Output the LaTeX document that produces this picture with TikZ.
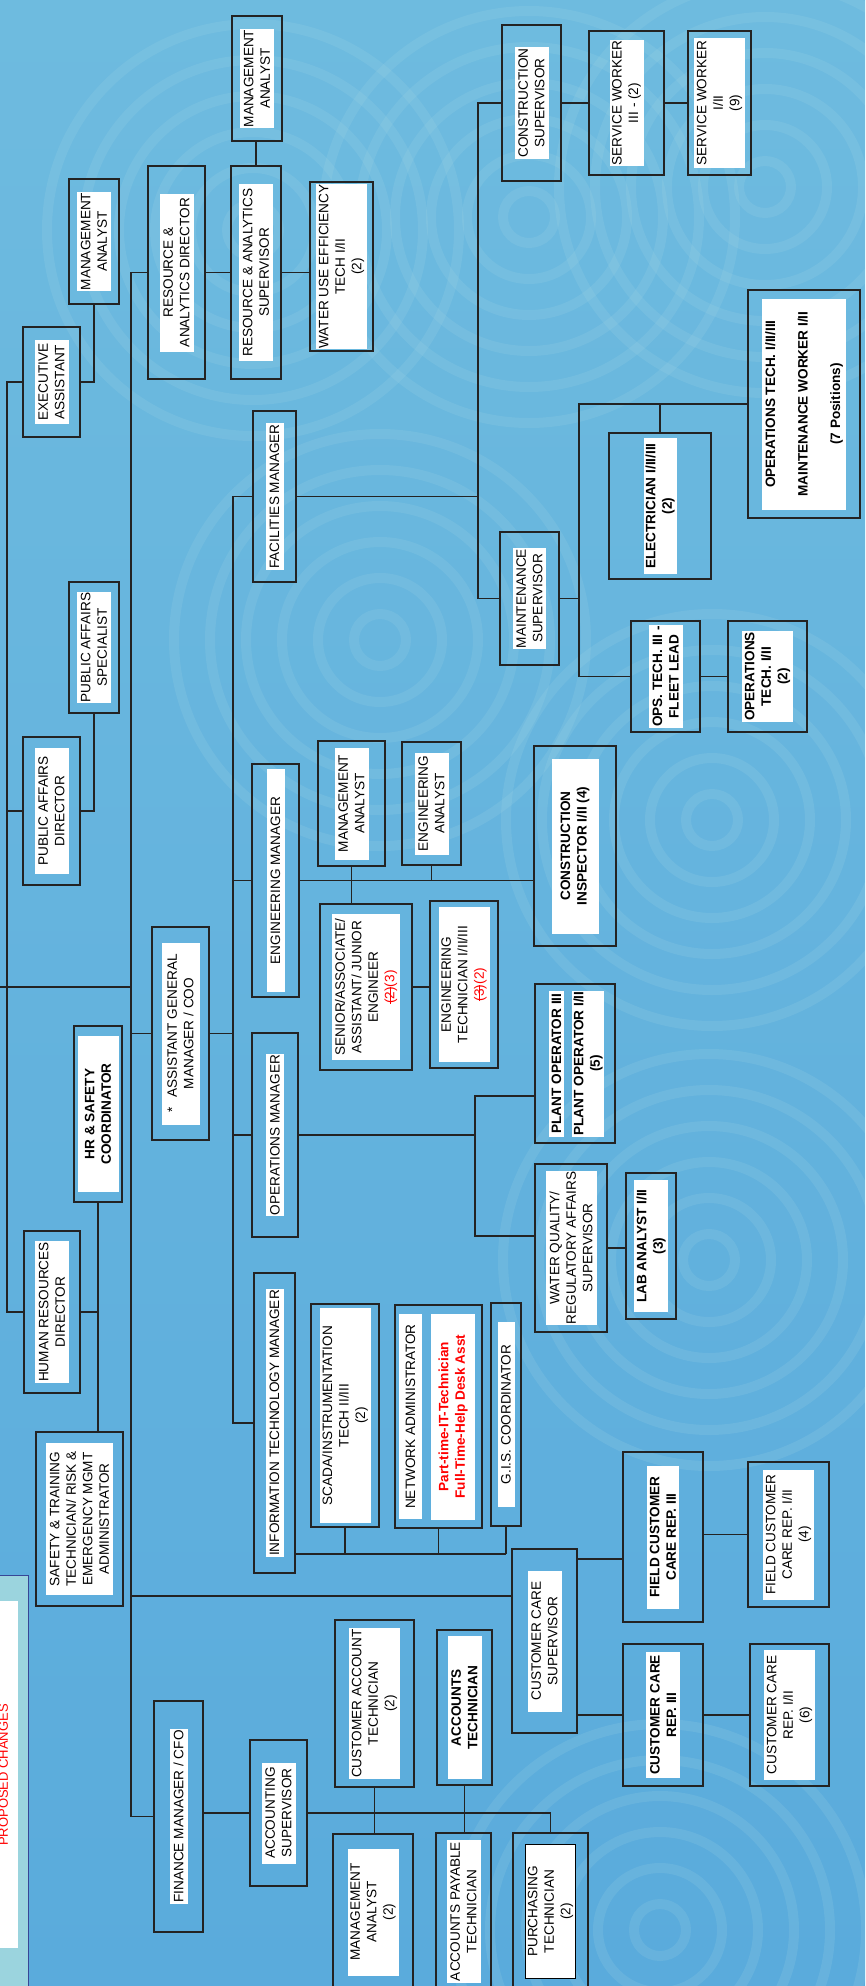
\documentclass[tikz,border=0pt]{standalone}
\usepackage{xcolor}
\usepackage{fontspec}
\setmainfont{Liberation Sans}
\usepackage{tikz}

\definecolor{bgtop}{RGB}{110,187,223}
\definecolor{bgbot}{RGB}{90,171,220}
\definecolor{ripc}{RGB}{168,217,229}
\definecolor{linec}{RGB}{35,35,35}
\definecolor{legc}{RGB}{155,212,222}
\definecolor{legedge}{RGB}{55,70,150}

\newcommand{\strk}[1]{\setbox0=\hbox{#1}\rlap{\rule[0.28em]{\wd0}{0.8pt}}\box0}

\begin{document}
\begin{tikzpicture}[x=1pt, y=-1pt,
  postbox/.style={draw=linec, line width=1.3pt, inner sep=0pt},
  postlbl/.style={fill=white, rotate=90, align=center, inner sep=1pt, font=\fontsize{13.6}{16.5}\selectfont},
  postbold/.style={postlbl, font=\fontsize{13.6}{16.5}\selectfont\bfseries},
  conn/.style={draw=linec, line width=1.6pt},
  ripple/.style={draw=ripc, line width=10pt, opacity=0.17}]
\useasboundingbox (0,0) rectangle (865,1986);
\clip (0,0) rectangle (865,1986);
%\draw[help lines] (0,0) grid[step=100] (865,1986);
\shade[top color=bgtop, bottom color=bgbot] (0,0) rectangle (865,1986);
\foreach \cx/\cy in {253/230,529/217,765/187,712/820,709/1260,660/1930,380/640}
  \foreach \rr in {26,62,...,206}
    \draw[ripple] (\cx,\cy) circle[radius=\rr pt];

\coordinate (spA) at (7,0);
\coordinate (spB) at (131,0);
\coordinate (spC) at (233,0);
\coordinate (spD) at (478,0);
\coordinate (spE) at (579,0);
\coordinate (spF) at (475,0);
\coordinate (gm) at (0,987);

% legend
\node[draw=legedge, fill=legc, line width=1pt, minimum width=31pt, minimum height=420pt, inner sep=0pt] (legend) at (12.5,1785) {};
\node[fill=white, minimum width=23pt, minimum height=347pt, inner sep=0pt] (legendw) at (6.5,1774.5) {};
\node[rotate=90, text=red, inner sep=0pt, font=\fontsize{13}{16}\selectfont] (legendt) at (3.5,1775) {PROPOSED CHANGES};

% left column
\node[postbox, minimum width=50pt, minimum height=125pt] (ma1) at (94,241.5) {};
\node[postlbl, minimum width=98pt, minimum height=34pt] (ma1t) at (ma1) {MANAGEMENT\\ANALYST};
\node[postbox, minimum width=57pt, minimum height=110pt] (exa) at (51.5,382) {};
\node[postlbl, minimum width=84pt, minimum height=34pt] (exat) at (exa) {EXECUTIVE\\ASSISTANT};
\node[postbox, minimum width=50pt, minimum height=131pt] (pas) at (94,647.5) {};
\node[postlbl, minimum width=111pt, minimum height=34pt] (past) at (pas) {PUBLIC AFFAIRS\\SPECIALIST};
\node[postbox, minimum width=57pt, minimum height=148pt] (pad) at (51.5,811) {};
\node[postlbl, minimum width=126pt, minimum height=34pt] (padt) at (pad) {PUBLIC AFFAIRS\\DIRECTOR};
\node[postbox, line width=2.2pt, minimum width=48pt, minimum height=176pt] (hrs) at (98,1114) {};
\node[postbold, minimum width=156pt, minimum height=41pt] (hrst) at (hrs) {HR \& SAFETY\\COORDINATOR};
\node[postbox, minimum width=56pt, minimum height=162pt] (hrd) at (52,1312) {};
\node[postlbl, minimum width=138pt, minimum height=34pt] (hrdt) at (hrd) {HUMAN RESOURCES\\DIRECTOR};
\node[postbox, minimum width=87pt, minimum height=174pt] (sat) at (79.5,1519) {};
\node[postlbl, minimum width=152pt, minimum height=67pt] (satt) at (sat) {SAFETY \& TRAINING\\TECHNICIAN/ RISK \&\\EMERGENCY MGMT\\ADMINISTRATOR};

% directors
\node[postbox, minimum width=57pt, minimum height=213pt] (rad) at (176.5,272.5) {};
\node[postlbl, minimum width=158pt, minimum height=34pt] (radt) at (rad) {RESOURCE \&\\ANALYTICS DIRECTOR};
\node[postbox, minimum width=50pt, minimum height=213pt] (ras) at (256,272.5) {};
\node[postlbl, minimum width=177pt, minimum height=34pt] (rast) at (ras) {RESOURCE \& ANALYTICS\\SUPERVISOR};
\node[postbox, minimum width=50pt, minimum height=125pt] (ma0) at (257,78.5) {};
\node[postlbl, minimum width=98pt, minimum height=34pt] (ma0t) at (ma0) {MANAGEMENT\\ANALYST};
\node[postbox, minimum width=63pt, minimum height=169pt] (wue) at (341.5,266.5) {};
\node[postlbl, minimum width=161pt, minimum height=51pt] (wuet) at (wue) {WATER USE EFFICIENCY\\TECH I/II\\(2)};
\node[postbox, minimum width=57pt, minimum height=213pt] (agm) at (180.5,1033.5) {};
\node[postlbl, minimum width=182pt, minimum height=38pt] (agmt) at (agm) {*\hspace{10pt}ASSISTANT GENERAL\\MANAGER / COO};
\node[postbox, minimum width=49pt, minimum height=231pt] (fm) at (178.5,1816.5) {};
\node[postlbl, minimum width=170pt, minimum height=18pt] (fmt) at (fm) {FINANCE MANAGER / CFO};

% managers
\node[postbox, minimum width=43pt, minimum height=171pt] (fac) at (274.5,496.5) {};
\node[postlbl, minimum width=143pt, minimum height=18pt] (fact) at (fac) {FACILITIES MANAGER};
\node[postbox, minimum width=47pt, minimum height=233pt] (em) at (275.5,880.5) {};
\node[postlbl, minimum width=223pt, minimum height=18pt] (emt) at (em) {ENGINEERING MANAGER};
\node[postbox, minimum width=46pt, minimum height=204pt] (om) at (275,1135) {};
\node[postlbl, minimum width=160pt, minimum height=18pt] (omt) at (om) {OPERATIONS MANAGER};
\node[postbox, minimum width=41pt, minimum height=300pt] (it) at (274.5,1423) {};
\node[postlbl, minimum width=260pt, minimum height=18pt] (itt) at (it) {INFORMATION TECHNOLOGY MANAGER};

% facilities
\node[postbox, minimum width=59pt, minimum height=156pt] (cs) at (531.5,103) {};
\node[postlbl, minimum width=108pt, minimum height=34pt] (cst) at (cs) {CONSTRUCTION\\SUPERVISOR};
\node[postbox, minimum width=75pt, minimum height=144pt] (sw3) at (626.5,103) {};
\node[postlbl, minimum width=124pt, minimum height=34pt] (sw3t) at (sw3) {SERVICE WORKER\\III - (2)};
\node[postbox, minimum width=63pt, minimum height=144pt] (sw12) at (719.5,103) {};
\node[postlbl, minimum width=130pt, minimum height=51pt] (sw12t) at (sw12) {SERVICE WORKER\\I/II\\(9)};
\node[postbox, minimum width=112pt, minimum height=228pt] (opt) at (804,404) {};
\node[postbold, minimum width=211pt, minimum height=84pt] (optt) at (opt) {OPERATIONS TECH. I/II/III\\[16pt]MAINTENANCE WORKER I/II\\[16pt](7 Positions)};
\node[postbox, minimum width=102pt, minimum height=146pt] (elec) at (660,506) {};
\node[postbold, minimum width=136pt, minimum height=33pt] (elect) at (elec) {ELECTRICIAN I/II/III\\(2)};
\node[postbox, minimum width=59pt, minimum height=133pt] (ms) at (529.5,598.5) {};
\node[postlbl, minimum width=99pt, minimum height=33pt] (mst) at (ms) {MAINTENANCE\\SUPERVISOR};
\node[postbox, minimum width=69pt, minimum height=111pt] (fl) at (665.5,676.5) {};
\node[postbold, minimum width=100pt, minimum height=34pt] (flt) at (fl) {OPS. TECH. III -\\FLEET LEAD};
\node[postbox, minimum width=79pt, minimum height=111pt] (ot) at (767.5,676.5) {};
\node[postbold, minimum width=89pt, minimum height=51pt] (ott) at (ot) {OPERATIONS\\TECH. I/II\\(2)};

% engineering
\node[postbox, minimum width=67pt, minimum height=125pt] (ma2) at (351.5,803.5) {};
\node[postlbl, minimum width=112pt, minimum height=34pt] (ma2t) at (ma2) {MANAGEMENT\\ANALYST};
\node[postbox, minimum width=59pt, minimum height=123pt] (ea) at (431.5,803.5) {};
\node[postlbl, minimum width=102pt, minimum height=34pt] (eat) at (ea) {ENGINEERING\\ANALYST};
\node[postbox, minimum width=82pt, minimum height=200pt] (ci) at (575,846) {};
\node[postbold, minimum width=175pt, minimum height=47pt] (cit) at (ci) {CONSTRUCTION\\INSPECTOR I/II (4)};
\node[postbox, minimum width=92pt, minimum height=166pt] (sen) at (366,987) {};
\node[postlbl, minimum width=146pt, minimum height=68pt] (sent) at (sen) {SENIOR/ASSOCIATE/\\ASSISTANT/ JUNIOR\\ENGINEER\\{\color{red}\strk{(2)}(3)}};
\node[postbox, minimum width=68pt, minimum height=167pt] (et) at (464,984.5) {};
\node[postlbl, minimum width=155pt, minimum height=51pt] (ett) at (et) {ENGINEERING\\TECHNICIAN I/II/III\\{\color{red}\strk{(3)}(2)}};

% operations
\node[postbox, minimum width=80pt, minimum height=159pt] (po) at (575,1063.5) {};
\node[postbold, minimum width=146pt, minimum height=15pt] (pot) at ([xshift=-18.5pt]po.center) {PLANT OPERATOR III};
\node[postbold, minimum width=146pt, minimum height=32pt] (pou) at ([xshift=13pt]po.center) {PLANT OPERATOR I/II\\(5)};
\node[postbox, minimum width=72pt, minimum height=168pt] (wq) at (571,1248) {};
\node[postlbl, minimum width=151pt, minimum height=51pt] (wqt) at (wq) {WATER QUALITY/\\REGULATORY AFFAIRS\\SUPERVISOR};
\node[postbox, minimum width=50pt, minimum height=146pt] (lab) at (651,1246) {};
\node[postbold, minimum width=132pt, minimum height=34pt] (labt) at (lab) {LAB ANALYST I/II\\(3)};

% information technology
\node[postbox, minimum width=68pt, minimum height=223pt] (scada) at (345,1415.5) {};
\node[postlbl, minimum width=215pt, minimum height=51pt] (scadat) at (scada) {SCADA/INSTRUMENTATION\\TECH II/III\\(2)};
\node[postbox, minimum width=87pt, minimum height=223pt] (net) at (438.5,1416.5) {};
\node[postlbl, minimum width=205pt, minimum height=23pt] (nett) at ([xshift=-28pt]net.center) {NETWORK ADMINISTRATOR};
\node[postbold, text=red, minimum width=206pt, minimum height=44pt] (netu) at ([xshift=14.5pt]net.center) {Part-time-IT-Technician\\Full-Time-Help Desk Asst};
\node[postbox, minimum width=30pt, minimum height=223pt] (gis) at (506,1414.5) {};
\node[postlbl, minimum width=185pt, minimum height=17pt] (gist) at (gis) {G.I.S. COORDINATOR};

% customer care
\node[postbox, minimum width=65pt, minimum height=184pt] (ccs) at (544.5,1641) {};
\node[postlbl, minimum width=141pt, minimum height=34pt] (ccst) at (ccs) {CUSTOMER CARE\\SUPERVISOR};
\node[postbox, minimum width=80pt, minimum height=170pt] (fc3) at (663,1537) {};
\node[postbold, minimum width=143pt, minimum height=32pt] (fc3t) at (fc3) {FIELD CUSTOMER\\CARE REP. III};
\node[postbox, minimum width=81pt, minimum height=145pt] (fc12) at (788.5,1534.5) {};
\node[postlbl, minimum width=130pt, minimum height=51pt] (fc12t) at (fc12) {FIELD CUSTOMER\\CARE REP. I/II\\(4)};
\node[postbox, minimum width=80pt, minimum height=142pt] (ccr3) at (663,1715) {};
\node[postbold, minimum width=126pt, minimum height=34pt] (ccr3t) at (ccr3) {CUSTOMER CARE\\REP. III};
\node[postbox, minimum width=79pt, minimum height=142pt] (ccr12) at (789.5,1715) {};
\node[postlbl, minimum width=130pt, minimum height=51pt] (ccr12t) at (ccr12) {CUSTOMER CARE\\REP. I/II\\(6)};

% finance
\node[postbox, minimum width=57pt, minimum height=146pt] (as) at (278.5,1813) {};
\node[postlbl, minimum width=101pt, minimum height=34pt] (ast) at (as) {ACCOUNTING\\SUPERVISOR};
\node[postbox, minimum width=79pt, minimum height=167pt] (cat) at (374.5,1703.5) {};
\node[postlbl, minimum width=145pt, minimum height=51pt] (catt) at (cat) {CUSTOMER ACCOUNT\\TECHNICIAN\\(2)};
\node[postbox, minimum width=80pt, minimum height=156pt] (ma3) at (373,1912) {};
\node[postlbl, minimum width=127pt, minimum height=51pt] (ma3t) at (ma3) {MANAGEMENT\\ANALYST\\(2)};
\node[postbox, minimum width=55pt, minimum height=155pt] (at) at (464.5,1707.5) {};
\node[postbold, minimum width=143pt, minimum height=34pt] (att) at (at) {ACCOUNTS\\TECHNICIAN};
\node[postbox, minimum width=55pt, minimum height=157pt] (apt) at (463.5,1911.5) {};
\node[postlbl, minimum width=143pt, minimum height=34pt] (aptt) at (apt) {ACCOUNTS PAYABLE\\TECHNICIAN};
\node[postbox, minimum width=75pt, minimum height=157pt] (pur) at (550.5,1911.5) {};
\node[postlbl, draw=black, line width=0.8pt, minimum width=134pt, minimum height=50pt] (purt) at (pur) {PURCHASING\\TECHNICIAN\\(2)};

% connectors
\draw[conn] (exa.west) -- (exa.west -| spA) -- (hrd.west -| spA) -- (hrd.west);
\draw[conn] (pad.west -| spA) -- (pad.west);
\draw[conn] (gm) -- (gm -| spB);
\draw[conn] (exa.east) -| (ma1.south);
\draw[conn] (pad.east) -| (pas.south);
\draw[conn] (hrd.east) -- (hrd.east -| hrs.south);
\draw[conn] (hrs.south) -- (hrs.south |- sat.north);
\draw[conn] (rad.west) -- (rad.west -| spB) -- (fm.west -| spB) -- (fm.west);
\draw[conn] (agm.west -| spB) -- (agm.west);
\draw[conn] ([yshift=45pt]ccs.west) -- ([yshift=45pt]ccs.west -| spB);
\draw[conn] (rad.east) -- (ras.west);
\draw[conn] (ras.north) -- (ras.north |- ma0.south);
\draw[conn] (ras.east) -- (ras.east -| wue.west);
\draw[conn] (agm.east) -- (agm.east -| spC);
\draw[conn] (fac.west) -- (fac.west -| spC) -- (it.west -| spC) -- (it.west);
\draw[conn] (em.west -| spC) -- (em.west);
\draw[conn] (om.west -| spC) -- (om.west);
\draw[conn] (fac.east) -- (fac.east -| spD);
\draw[conn] (cs.west) -- (cs.west -| spD) -- (ms.west -| spD) -- (ms.west);
\draw[conn] (cs.east) -- (sw3.west);
\draw[conn] (sw3.east) -- (sw12.west);
\draw[conn] (ms.east) -- (ms.east -| spE);
\draw[conn] (opt.west) -- (opt.west -| spE) -- (fl.west -| spE) -- (fl.west);
\draw[conn] (elec.north) -- (elec.north |- opt.west);
\draw[conn] (fl.east) -- (ot.west);
\draw[conn] (em.east) -- (em.east -| ci.west);
\draw[conn] (ma2.south) -- (ma2.south |- sen.north);
\draw[conn] (ea.south) -- (ea.south |- em.east);
\draw[conn] (sen.east) -- (sen.east -| et.west);
\draw[conn] (om.east) -- (om.east -| spF);
\draw[conn] ([yshift=-32.5pt]po.west) -- ([yshift=-32.5pt]po.west -| spF) -- ([yshift=12pt]wq.west -| spF) -- ([yshift=12pt]wq.west);
\draw[conn] (wq.east) -- (wq.east -| lab.west);
\coordinate (itbus) at ([yshift=-131pt]it.east);
\draw[conn] (itbus) -- (itbus -| gis.south);
\draw[conn] (scada.south) -- (scada.south |- itbus);
\draw[conn] (net.south) -- (net.south |- itbus);
\draw[conn] (gis.south) -- (gis.south |- itbus);
\draw[conn] ([yshift=82pt]ccs.east) -- ([yshift=82pt]ccs.east -| fc3.west);
\draw[conn] (ccr3.west -| ccs.east) -- (ccr3.west);
\draw[conn] (fc12.west -| fc3.east) -- (fc12.west);
\draw[conn] (ccr3.east) -- (ccr12.west);
\draw[conn] (as.west -| fm.east) -- (as.west);
\draw[conn] (as.east) -| (pur.north);
\draw[conn] (cat.south) -- (cat.south |- ma3.north);
\draw[conn] (at.south) -- (at.south |- apt.north);
\end{tikzpicture}
\end{document}
